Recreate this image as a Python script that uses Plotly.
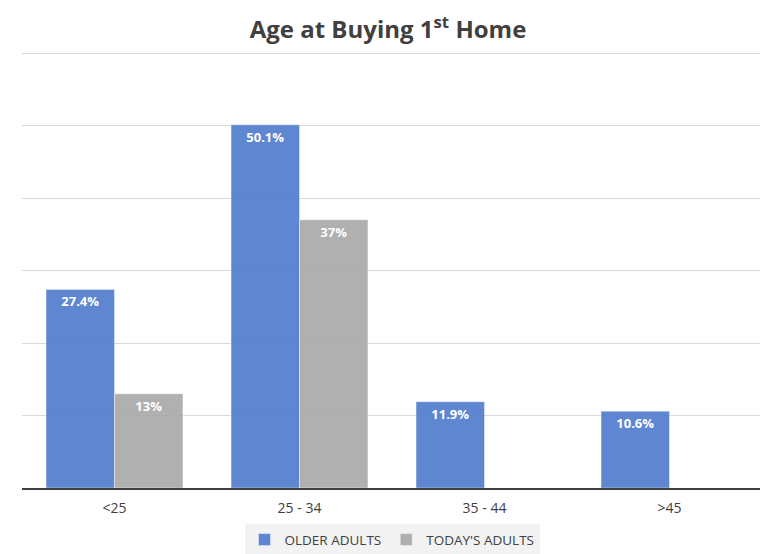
import plotly.graph_objects as go

# Chart data
age_groups = ["<25", "25 - 34", "35 - 44", ">45"]
older_adults = [27.4, 50.1, 11.9, 10.6]
todays_adults = [13, 37, None, None]
older_labels = ["<b>27.4%</b>", "<b>50.1%</b>", "<b>11.9%</b>", "<b>10.6%</b>"]
todays_labels = ["<b>13%</b>", "<b>37%</b>", "", ""]

fig = go.Figure()

fig.add_trace(go.Bar(
    x=age_groups,
    y=older_adults,
    name="OLDER ADULTS",
    marker=dict(color="rgba(72,117,203,0.88)", line=dict(color="rgba(255,255,255,0.4)", width=1)),
    text=older_labels,
    textposition="inside",
    insidetextanchor="end",
    textfont=dict(color="white", size=13, family="Open Sans"),
    cliponaxis=False
))

fig.add_trace(go.Bar(
    x=age_groups,
    y=todays_adults,
    name="TODAY'S ADULTS",
    marker=dict(color="rgba(165,165,165,0.88)", line=dict(color="rgba(255,255,255,0.4)", width=1)),
    text=todays_labels,
    textposition="inside",
    insidetextanchor="end",
    textfont=dict(color="white", size=13, family="Open Sans"),
    cliponaxis=False
))

# page body has an 8px margin, so the figure is a bit smaller than the window
fig.update_layout(
    width=760, height=546,
    margin=dict(l=14, r=6, t=44, b=66, autoexpand=False),
    paper_bgcolor="white",
    plot_bgcolor="white",
    barmode="group",
    bargap=0.26,
    bargroupgap=0.0,
    title=dict(
        text="<b>Age at Buying 1<sup>st</sup> Home</b>",
        x=0.5, xanchor="center",
        y=0.96, yanchor="middle",
        font=dict(family="Open Sans", size=24, color="#404040")
    ),
    font=dict(family="Open Sans", color="#404040", size=13),
    uniformtext=dict(minsize=12, mode="show"),
    legend=dict(
        orientation="h",
        x=0.5, xanchor="center",
        yref="container",
        y=0.026, yanchor="middle",
        bgcolor="#F2F2F2",
        font=dict(size=13.5, color="#404040"),
        itemwidth=30,
        traceorder="normal"
    )
)

fig.update_xaxes(
    showline=True, linecolor="#404040", linewidth=2,
    ticks="", tickfont=dict(size=14, color="#404040"),
    ticklabelstandoff=6,
    showgrid=False
)
fig.update_yaxes(
    range=[0, 60.15], dtick=10,
    showticklabels=False,
    showgrid=True, gridcolor="#D9D9D9", gridwidth=1,
    zeroline=False, showline=False
)

fig.write_html("out.html")
